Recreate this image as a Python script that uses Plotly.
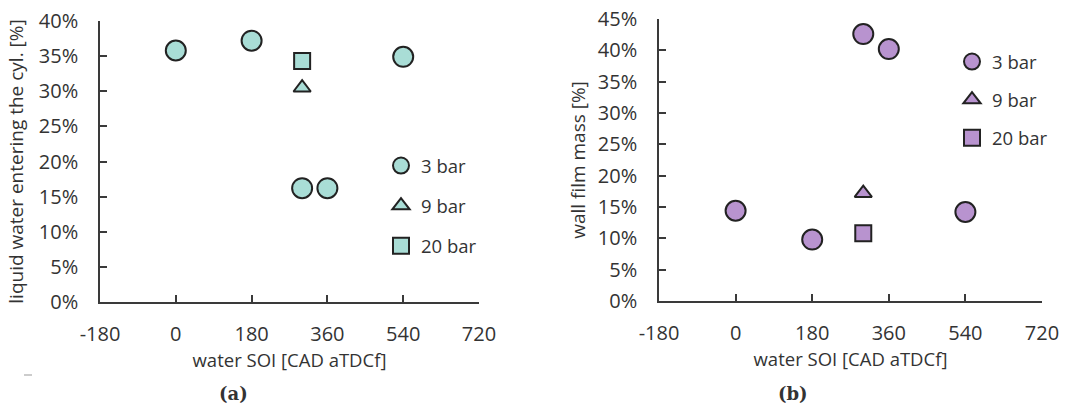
import plotly.graph_objects as go

# ---- data ----
x_ticks = [-180, 0, 180, 360, 540, 720]
labels = ["3 bar", "9 bar", "20 bar"]
a_y_ticks = [0, 5, 10, 15, 20, 25, 30, 35, 40]
b_y_ticks = [0, 5, 10, 15, 20, 25, 30, 35, 40, 45]

a_x_3 = [0, 180, 300, 360, 540]
a_y_3 = [35.8, 37.2, 16.2, 16.2, 34.9]
a_x_9 = [300]
a_y_9 = [30.5]
a_x_20 = [300]
a_y_20 = [34.3]

b_x_3 = [0, 180, 300, 360, 540]
b_y_3 = [14.4, 9.8, 42.6, 40.2, 14.2]
b_x_9 = [300]
b_y_9 = [17.2]
b_x_20 = [300]
b_y_20 = [10.8]

teal = "#a9ddd6"
lav = "#b893cf"
edge = "#222222"
FONT = "Open Sans"
TXT = "#333333"

fig = go.Figure()

def add(x, y, name, sym, size, col, xa, ya, leg, grp):
    fig.add_trace(go.Scatter(
        x=x, y=y, mode="markers", name=name, xaxis=xa, yaxis=ya,
        legend=leg, legendgroup=grp,
        marker=dict(symbol=sym, size=size, color=col,
                    line=dict(color=edge, width=2)),
        hoverinfo="x+y"))

syms = [("circle", 20), ("triangle-up", 15), ("square", 16)]
for (xs, ys), lab, (sym, sz) in zip([(a_x_3, a_y_3), (a_x_9, a_y_9), (a_x_20, a_y_20)], labels, syms):
    add(xs, ys, lab, sym, sz, teal, "x", "y", "legend", "a" + lab)
for (xs, ys), lab, (sym, sz) in zip([(b_x_3, b_y_3), (b_x_9, b_y_9), (b_x_20, b_y_20)], labels, syms):
    add(xs, ys, lab, sym, sz, lav, "x2", "y2", "legend2", "b" + lab)

W, H = 1082, 407


def px(x):
    return x / W


def py(y):
    return (H - y) / H


axis_common = dict(showgrid=False, zeroline=False, showline=True, linecolor="#3a3a3a",
                   linewidth=1.5, ticks="inside", ticklen=7, tickwidth=1.5, automargin=False,
                   ticklabeloverflow="allow",
                   tickcolor="#3a3a3a", tickfont=dict(family=FONT, size=20, color=TXT))

xa = dict(axis_common, range=[-180, 720], tickvals=x_ticks,
          ticktext=[str(v) for v in x_ticks], ticklabelstandoff=13,
          title=dict(text="water SOI [CAD aTDCf]", font=dict(family=FONT, size=18.5, color=TXT), standoff=8))


def ya(ticks, title, so):
    return dict(axis_common, range=[ticks[0], ticks[-1]], tickvals=ticks,
                ticktext=[f"{v}%" for v in ticks], ticklabelstandoff=16,
                title=dict(text=title, font=dict(family=FONT, size=19, color=TXT), standoff=so))


fig.update_layout(
    width=W, height=H,
    margin=dict(l=0, r=0, t=0, b=0, autoexpand=False),
    paper_bgcolor="white", plot_bgcolor="white",
    showlegend=True,
    xaxis=dict(xa, domain=[px(100), px(479)], anchor="y"),
    yaxis=dict(ya(a_y_ticks, "liquid water entering the cyl. [%]", 10),
               domain=[py(302), py(21)], anchor="x"),
    xaxis2=dict(xa, domain=[px(659), px(1042)], anchor="y2"),
    yaxis2=dict(ya(b_y_ticks, "wall film mass [%]", 7),
                domain=[py(301), py(19)], anchor="x2"),
    legend=dict(x=px(381), y=py(147), xanchor="left", yanchor="top",
                traceorder="grouped", tracegroupgap=13, bgcolor="rgba(0,0,0,0)",
                font=dict(family=FONT, size=18.5, color=TXT), itemwidth=30),
    legend2=dict(x=px(952), y=py(43), xanchor="left", yanchor="top",
                 traceorder="grouped", tracegroupgap=11, bgcolor="rgba(0,0,0,0)",
                 font=dict(family=FONT, size=18.5, color=TXT), itemwidth=30),
    annotations=[
        dict(text="<b>(a)</b>", x=px(233), y=py(393), xref="paper", yref="paper",
             xanchor="center", yanchor="middle",
             showarrow=False, font=dict(family="DejaVu Serif", size=18, color=TXT)),
        dict(text="<b>(b)</b>", x=px(793), y=py(393), xref="paper", yref="paper",
             xanchor="center", yanchor="middle",
             showarrow=False, font=dict(family="DejaVu Serif", size=18, color=TXT)),
    ],
    shapes=[dict(type="line", xref="paper", yref="paper", x0=px(24), x1=px(32),
                 y0=py(375), y1=py(375), line=dict(color="#999999", width=1))],
)

fig.write_html("out.html", config={"displayModeBar": False},
               post_script="document.body.style.margin='0';")
